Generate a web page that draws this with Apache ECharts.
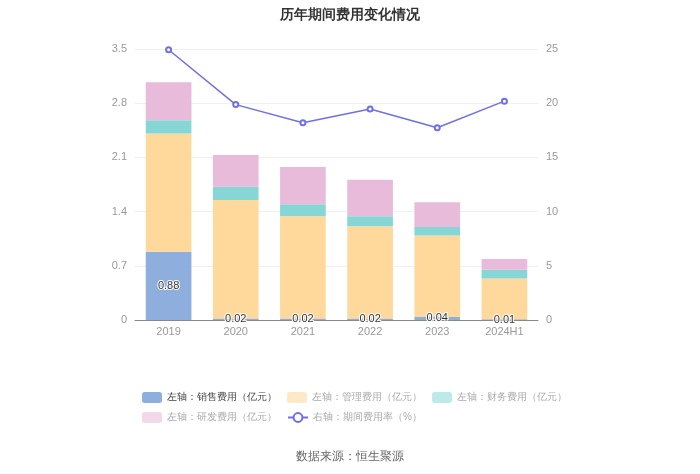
<!DOCTYPE html>
<html><head><meta charset="utf-8">
<script src="https://cdn.jsdelivr.net/npm/echarts@6/dist/echarts.min.js"></script>
<style>html,body{margin:0;padding:0;background:#fff}#c{width:700px;height:474px}</style>
</head><body><div id="c"></div>
<script>
const categories = ['2019','2020','2021','2022','2023','2024H1'];
const sales = [0.88, 0.02, 0.02, 0.02, 0.04, 0.01];
const admin = [1.53, 1.53, 1.32, 1.19, 1.05, 0.525];
const finance = [0.17, 0.17, 0.155, 0.13, 0.11, 0.113];
const rnd = [0.49, 0.41, 0.48, 0.47, 0.32, 0.14];
const rate = [24.93, 19.87, 18.2, 19.47, 17.74, 20.19];
const leftTicks = [0, 0.7, 1.4, 2.1, 2.8, 3.5];
const rightTicks = [0, 5, 10, 15, 20, 25];
const names = ['左轴：销售费用（亿元）','左轴：管理费用（亿元）','左轴：财务费用（亿元）','左轴：研发费用（亿元）','右轴：期间费用率（%）'];
const colors = ['#8eaedd','#ffd89c','#86d6d6','#e8bbdb','#6f6fe8'];
const legendColors = ['#8eaedd','#ffe8c6','#bde9e9','#f1d8eb','#9a9af0'];

const chart = echarts.init(document.getElementById('c'));
function barSeries(i, data, label) {
  return {
    name: names[i], type: 'bar', stack: 'a', barWidth: '68%', data: data,
    itemStyle: {color: colors[i]},
    label: label ? {show: true, position: 'inside', color: '#333', fontSize: 11,
      textBorderColor: '#fff', textBorderWidth: 2, formatter: p => p.value.toFixed(2)} : {show: false}
  };
}
function legendItem(i) {
  const o = {name: names[i], textStyle: {color: i === 0 ? '#444' : '#aaa'}};
  if (i < 4) o.itemStyle = {color: legendColors[i]};
  return o;
}
const legendBase = {itemWidth: 20, itemHeight: 11, itemGap: 10, left: 142,
  textStyle: {fontSize: 10, color: '#aaa'}, padding: 0};
chart.setOption({
  animation: false,
  title: {text: '历年期间费用变化情况', left: 'center', top: 3,
    textStyle: {fontSize: 14, fontWeight: 'bold', color: '#333'}},
  legend: [
    Object.assign({}, legendBase, {top: 392, data: [0,1,2].map(legendItem)}),
    Object.assign({}, legendBase, {top: 412, data: [3,4].map(legendItem)})
  ],
  grid: {left: 135, right: 162, top: 49, bottom: 154},
  xAxis: {type: 'category', data: categories,
    axisLine: {lineStyle: {color: '#888'}}, axisTick: {show: false},
    axisLabel: {color: '#999', fontSize: 11, margin: 6}},
  yAxis: [
    {type: 'value', min: 0, max: 3.5, interval: 0.7,
      axisLabel: {color: '#999', fontSize: 11, margin: 8, formatter: v => leftTicks.includes(+v.toFixed(1)) ? String(+v.toFixed(1)) : ''},
      splitLine: {lineStyle: {color: '#eef0f3'}}, axisLine: {show: false}, axisTick: {show: false}},
    {type: 'value', min: 0, max: 25, interval: 5,
      axisLabel: {color: '#999', fontSize: 11, margin: 8, formatter: v => rightTicks.includes(v) ? String(v) : ''},
      splitLine: {show: false}, axisLine: {show: false}, axisTick: {show: false}}
  ],
  series: [
    barSeries(0, sales, true),
    barSeries(1, admin, false),
    barSeries(2, finance, false),
    barSeries(3, rnd, false),
    {name: names[4], type: 'line', yAxisIndex: 1, data: rate, symbol: 'emptyCircle', symbolSize: 5,
      itemStyle: {color: colors[4]}, lineStyle: {color: colors[4], width: 1.5}}
  ],
  graphic: [{type: 'text', left: 'center', top: 451,
    style: {text: '数据来源：恒生聚源', fill: '#666', fontSize: 12}}]
});
</script></body></html>
